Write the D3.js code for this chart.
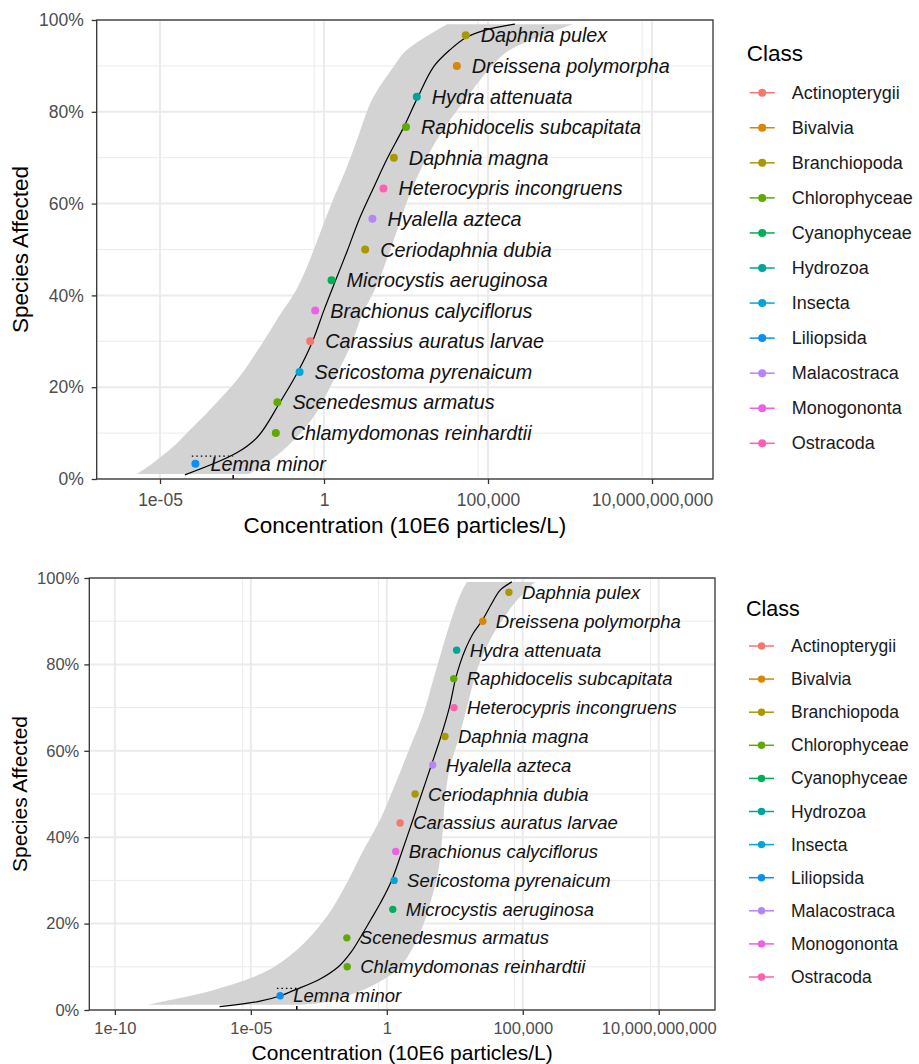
<!DOCTYPE html>
<html>
<head>
<meta charset="utf-8">
<script src="https://cdn.jsdelivr.net/npm/d3@7"></script>
<style>
  body { margin: 0; background: #fff; }
  text { font-family: Arial, "Liberation Sans", sans-serif; }
</style>
</head>
<body>
<svg id="chart" width="919" height="1064"></svg>
<script>
// ---- data ----
var classNames = ["Actinopterygii", "Bivalvia", "Branchiopoda", "Chlorophyceae", "Cyanophyceae",
    "Hydrozoa", "Insecta", "Liliopsida", "Malacostraca", "Monogononta", "Ostracoda"];
var classColors = ["#F5776D", "#D98600", "#AA9800", "#5FAA00", "#00AE55",
    "#00A397", "#00A6D8", "#0C8FF2", "#B385FF", "#EB62E3", "#FF5FAE"];

// share of species affected (%), same for both panels, bottom to top
var affected = [3.3, 10, 16.7, 23.3, 30, 36.7, 43.3, 50, 56.7, 63.3, 70, 76.7, 83.3, 90, 96.7];

// upper panel
var speciesA = ["Lemna minor", "Chlamydomonas reinhardtii", "Scenedesmus armatus", "Sericostoma pyrenaicum",
    "Carassius auratus larvae", "Brachionus calyciflorus", "Microcystis aeruginosa", "Ceriodaphnia dubia",
    "Hyalella azteca", "Heterocypris incongruens", "Daphnia magna", "Raphidocelis subcapitata",
    "Hydra attenuata", "Dreissena polymorpha", "Daphnia pulex"];
var classA = ["Liliopsida", "Chlorophyceae", "Chlorophyceae", "Insecta", "Actinopterygii", "Monogononta",
    "Cyanophyceae", "Branchiopoda", "Malacostraca", "Ostracoda", "Branchiopoda", "Chlorophyceae",
    "Hydrozoa", "Bivalvia", "Branchiopoda"];
var concA = [1.2e-4, 0.034, 0.038, 0.18, 0.38, 0.54, 1.7, 18, 30, 65, 135, 316, 676, 11200, 21000];
// fitted curve, log10 concentration vs fraction
var curveAP = [0.009, 0.057, 0.092, 0.166, 0.233, 0.298, 0.368, 0.434, 0.499, 0.567, 0.633, 0.697, 0.765, 0.832, 0.898, 0.935, 0.963, 0.978, 0.991];
var curveALog = [-4.24, -2.66, -2.02, -1.35, -0.80, -0.36, 0.0, 0.36, 0.72, 1.08, 1.50, 1.92, 2.42, 2.86, 3.34, 3.84, 4.36, 4.92, 5.82];
// confidence band edges
var bandALeftP = [0.011, 0.035, 0.070, 0.107, 0.144, 0.216, 0.288, 0.362, 0.405, 0.462, 0.536, 0.608, 0.680, 0.754, 0.826, 0.898, 0.935, 0.991];
var bandALeftLog = [-5.70, -5.21, -4.60, -4.09, -3.57, -2.65, -1.95, -1.30, -0.90, -0.52, -0.12, 0.27, 0.70, 1.08, 1.46, 2.12, 2.53, 3.75];
var bandARightP = bandALeftP;
var bandARightLog = [-2.30, -1.74, -1.13, -0.64, -0.24, 0.30, 0.80, 1.19, 1.50, 1.83, 2.20, 2.55, 2.99, 3.57, 4.30, 5.10, 5.67, 7.59];
var hc5A = [-4.03, -2.77];   // dotted 5% line: from, to (log10)

// lower panel
var speciesB = ["Lemna minor", "Chlamydomonas reinhardtii", "Scenedesmus armatus", "Microcystis aeruginosa",
    "Sericostoma pyrenaicum", "Brachionus calyciflorus", "Carassius auratus larvae", "Ceriodaphnia dubia",
    "Hyalella azteca", "Daphnia magna", "Heterocypris incongruens", "Raphidocelis subcapitata",
    "Hydra attenuata", "Dreissena polymorpha", "Daphnia pulex"];
var classB = ["Liliopsida", "Chlorophyceae", "Chlorophyceae", "Cyanophyceae", "Insecta", "Monogononta",
    "Actinopterygii", "Branchiopoda", "Malacostraca", "Branchiopoda", "Ostracoda", "Chlorophyceae",
    "Hydrozoa", "Bivalvia", "Branchiopoda"];
var concB = [1.2e-4, 0.035, 0.034, 1.66, 1.86, 2.14, 3.1, 11, 49, 138, 295, 290, 372, 3400, 31000];
var curveBP = [0.0076, 0.02, 0.033, 0.046, 0.07, 0.10, 0.135, 0.167, 0.21, 0.247, 0.30, 0.367, 0.433, 0.50, 0.567, 0.633, 0.70, 0.767, 0.803, 0.835, 0.872, 0.901, 0.941, 0.972, 0.991];
var curveBLog = [-6.15, -4.7, -3.9, -3.4, -2.5, -1.78, -1.30, -0.98, -0.58, -0.24, 0.18, 0.56, 0.92, 1.28, 1.64, 1.99, 2.30, 2.53, 2.70, 2.89, 3.18, 3.50, 3.86, 4.17, 4.60];
var bandBLeftP = [0.012, 0.023, 0.046, 0.086, 0.139, 0.216, 0.294, 0.370, 0.440, 0.532, 0.609, 0.687, 0.765, 0.845, 0.919, 0.972, 0.991];
var bandBLeftLog = [-8.78, -7.97, -6.39, -4.55, -3.31, -2.21, -1.47, -0.86, -0.25, 0.37, 0.86, 1.35, 1.71, 2.08, 2.45, 2.78, 2.95];
var bandBRightP = [0.012, 0.016, 0.035, 0.062, 0.100, 0.178, 0.255, 0.331, 0.410, 0.479, 0.556, 0.632, 0.711, 0.787, 0.863, 0.942, 0.991];
var bandBRightLog = [-3.19, -2.45, -1.35, -0.36, 0.49, 1.22, 1.63, 1.92, 2.05, 2.13, 2.30, 2.66, 2.99, 3.32, 3.85, 4.70, 5.45];
var hc5B = [-4.04, -3.31];

var yTicks = [0, 0.2, 0.4, 0.6, 0.8, 1];
var yMinor = [0.1, 0.3, 0.5, 0.7, 0.9];
var xTicksA = [1e-5, 1, 1e5, 1e10];
var xLabelsA = ["1e-05", "1", "100,000", "10,000,000,000"];
var xMinorA = [0.5, 5e4, 5e9];
var xTicksB = [1e-10, 1e-5, 1, 1e5, 1e10];
var xLabelsB = ["1e-10", "1e-05", "1", "100,000", "10,000,000,000"];
var xMinorB = [5e-6, 0.5, 5e4, 5e9];

var svg = d3.select("#chart");
var color = d3.scaleOrdinal().domain(classNames).range(classColors);

function drawPanel(c) {
    var x = d3.scaleLog().domain(c.domain).range([c.left, c.right]);
    var y = d3.scaleLinear().domain([0, 1]).range([c.bottom, c.top]);
    var g = svg.append("g");

    // grid
    var grid = g.append("g");
    grid.selectAll(".ymin").data(yMinor).join("line")
        .attr("x1", c.left).attr("x2", c.right)
        .attr("y1", d => y(d)).attr("y2", d => y(d))
        .style("stroke", "#EBEBEB").style("stroke-width", 1);
    grid.selectAll(".xmin").data(c.xMinor).join("line")
        .attr("y1", c.top).attr("y2", c.bottom)
        .attr("x1", d => x(d)).attr("x2", d => x(d))
        .style("stroke", "#EBEBEB").style("stroke-width", 1);
    grid.selectAll(".ymaj").data(yTicks).join("line")
        .attr("x1", c.left).attr("x2", c.right)
        .attr("y1", d => y(d)).attr("y2", d => y(d))
        .style("stroke", "#EBEBEB").style("stroke-width", 2);
    grid.selectAll(".xmaj").data(c.xTicks).join("line")
        .attr("y1", c.top).attr("y2", c.bottom)
        .attr("x1", d => x(d)).attr("x2", d => x(d))
        .style("stroke", "#EBEBEB").style("stroke-width", 2);

    // confidence band: smoothed left edge up, smoothed right edge down
    var edge = d3.line().curve(d3.curveCatmullRom)
        .x(d => x(Math.pow(10, d[0]))).y(d => y(d[1]));
    var leftPts = c.bandLeftP.map((p, i) => [c.bandLeftLog[i], p]);
    var rightPts = c.bandRightP.map((p, i) => [c.bandRightLog[i], p]).reverse();
    g.append("path")
        .attr("d", edge(leftPts) + "L" + edge(rightPts).slice(1) + "Z")
        .style("fill", "#D3D3D3");

    // dotted 5% line and hc5 mark
    g.append("line")
        .attr("x1", x(Math.pow(10, c.hc5[0]))).attr("x2", x(Math.pow(10, c.hc5[1])))
        .attr("y1", y(0.05)).attr("y2", y(0.05))
        .style("stroke", "#000").style("stroke-width", 1.3).style("stroke-dasharray", "1.5,3");
    g.append("line")
        .attr("x1", x(Math.pow(10, c.hc5[1]))).attr("x2", x(Math.pow(10, c.hc5[1])))
        .attr("y1", y(0)).attr("y2", y(0) - 4)
        .style("stroke", "#000").style("stroke-width", 1.5);

    // fitted curve
    var cur = c.curveP.map((p, i) => [c.curveLog[i], p]);
    g.append("path")
        .attr("d", edge(cur))
        .style("fill", "none").style("stroke", "#000").style("stroke-width", 1.2);

    // points
    g.append("g").selectAll("circle").data(c.species).join("circle")
        .attr("cx", (d, i) => x(c.conc[i]))
        .attr("cy", (d, i) => y(affected[i] / 100))
        .attr("r", c.r)
        .style("fill", (d, i) => color(c.cls[i]));

    // labels
    g.append("g").selectAll("text").data(c.species).join("text")
        .attr("x", (d, i) => x(c.conc[i]) + c.labelGap)
        .attr("y", (d, i) => y(affected[i] / 100))
        .attr("dominant-baseline", "central")
        .style("font-style", "italic")
        .style("font-size", c.labelSize + "px")
        .style("fill", "#111")
        .text(d => d);

    // border
    g.append("rect")
        .attr("x", c.left).attr("y", c.top)
        .attr("width", c.right - c.left).attr("height", c.bottom - c.top)
        .style("fill", "none").style("stroke", "#333").style("stroke-width", 1.3);

    // axes
    var ax = g.append("g")
        .attr("transform", "translate(0," + c.bottom + ")")
        .call(d3.axisBottom(x).tickValues(c.xTicks)
            .tickFormat((d, i) => c.xLabels[i]).tickSize(5).tickPadding(c.xPad));
    var ay = g.append("g")
        .attr("transform", "translate(" + c.left + ",0)")
        .call(d3.axisLeft(y).tickValues(yTicks)
            .tickFormat(d3.format(".0%")).tickSize(5).tickPadding(c.yPad));
    [ax, ay].forEach(function (a) {
        a.select(".domain").remove();
        a.selectAll("line").style("stroke", "#333").style("stroke-width", 1.3);
        a.selectAll("text").style("fill", "#4D4D4D")
            .style("font-size", c.tickSize + "px")
            .style("font-family", "Arial, 'Liberation Sans', sans-serif");
    });

    // axis titles
    g.append("text")
        .attr("x", (c.left + c.right) / 2).attr("y", c.xTitleY)
        .style("text-anchor", "middle").style("font-size", c.titleSize + "px")
        .text("Concentration (10E6 particles/L)");
    g.append("text")
        .attr("transform", "translate(" + c.yTitleX + "," + ((c.top + c.bottom) / 2) + ") rotate(-90)")
        .style("text-anchor", "middle").style("font-size", c.titleSize + "px")
        .text("Species Affected");

    // legend
    var lg = g.append("g");
    lg.append("text")
        .attr("x", c.legX).attr("y", c.legTitleY)
        .attr("dominant-baseline", "central")
        .style("font-size", c.legTitleSize + "px")
        .text("Class");
    var items = lg.selectAll(".item").data(classNames).join("g")
        .attr("transform", (d, i) => "translate(0," + (c.legY0 + i * c.legStep) + ")");
    items.append("line")
        .attr("x1", c.legX + 3).attr("x2", c.legX + 28)
        .style("stroke", d => color(d)).style("stroke-width", 1.5);
    items.append("circle")
        .attr("cx", c.legX + 15.5).attr("r", c.r)
        .style("fill", d => color(d));
    items.append("text")
        .attr("x", c.legX + 45)
        .attr("dominant-baseline", "central")
        .style("font-size", c.legSize + "px")
        .style("fill", "#1a1a1a")
        .text(d => d);
}

drawPanel({
    left: 96.7, right: 713, top: 20, bottom: 479,
    domain: [Math.pow(10, -6.93), Math.pow(10, 11.86)],
    xTicks: xTicksA, xLabels: xLabelsA, xMinor: xMinorA,
    species: speciesA, cls: classA, conc: concA,
    curveP: curveAP, curveLog: curveALog,
    bandLeftP: bandALeftP, bandLeftLog: bandALeftLog,
    bandRightP: bandARightP, bandRightLog: bandARightLog,
    hc5: hc5A,
    r: 4, labelGap: 15, labelSize: 19.8,
    tickSize: 17.5, xPad: 10, yPad: 8,
    titleSize: 22.5, xTitleY: 533, yTitleX: 28,
    legX: 746.7, legTitleY: 53, legTitleSize: 22.5, legY0: 92.7, legStep: 35.06, legSize: 18
});

drawPanel({
    left: 89.3, right: 715, top: 578, bottom: 1010,
    domain: [Math.pow(10, -10.94), Math.pow(10, 12.07)],
    xTicks: xTicksB, xLabels: xLabelsB, xMinor: xMinorB,
    species: speciesB, cls: classB, conc: concB,
    curveP: curveBP, curveLog: curveBLog,
    bandLeftP: bandBLeftP, bandLeftLog: bandBLeftLog,
    bandRightP: bandBRightP, bandRightLog: bandBRightLog,
    hc5: hc5B,
    r: 3.7, labelGap: 13, labelSize: 18.5,
    tickSize: 16.5, xPad: 7, yPad: 5,
    titleSize: 21, xTitleY: 1060, yTitleX: 26.7,
    legX: 746, legTitleY: 609, legTitleSize: 21.5, legY0: 646, legStep: 33.1, legSize: 17.5
});
</script>
</body>
</html>
